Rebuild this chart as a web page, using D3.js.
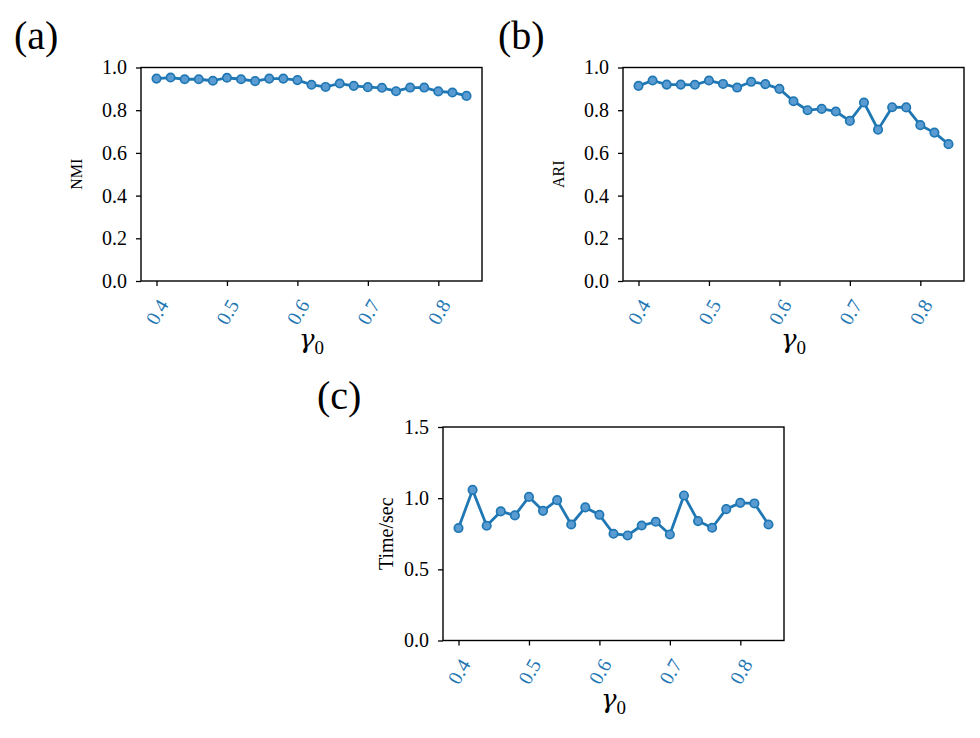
<!DOCTYPE html>
<html>
<head>
<meta charset="utf-8">
<script src="https://cdn.jsdelivr.net/npm/d3@7"></script>
<style>
  body { margin: 0; background: #fff; }
  svg { display: block; font-family: "Liberation Serif", "DejaVu Serif", serif; }
  .frame { fill: none; stroke: #000; stroke-width: 1.4; }
  .tick line { stroke: #000; stroke-width: 1.3; }
  .y-axis text { fill: #000; font-size: 20px; font-family: "Liberation Serif", serif; }
  .x-axis text { fill: #1f77b4; font-size: 20px; font-family: "Liberation Serif", serif; }
  .series-line { fill: none; stroke: #1f77b4; stroke-width: 2.8; stroke-linejoin: round; }
  .series-dot { fill: #5a9bd2; stroke: #1f77b4; stroke-width: 1.7; }
  .gamma { font-family: "DejaVu Serif", serif; font-style: italic; }
</style>
</head>
<body>
<div id="chart"></div>
<script>
// gamma_0 values on the x axis
var gammaValues = [0.40, 0.42, 0.44, 0.46, 0.48, 0.50, 0.52, 0.54, 0.56, 0.58, 0.60, 0.62,
                   0.64, 0.66, 0.68, 0.70, 0.72, 0.74, 0.76, 0.78, 0.80, 0.82, 0.84];
var nmiValues = [0.948, 0.953, 0.945, 0.945, 0.938, 0.952, 0.945, 0.936, 0.948, 0.948, 0.941, 0.919,
                 0.909, 0.925, 0.914, 0.908, 0.905, 0.889, 0.906, 0.906, 0.888, 0.883, 0.867];
var ariValues = [0.914, 0.939, 0.920, 0.920, 0.919, 0.939, 0.923, 0.906, 0.933, 0.922, 0.900, 0.842,
                 0.800, 0.806, 0.794, 0.750, 0.836, 0.709, 0.814, 0.813, 0.730, 0.695, 0.641];
var timeValues = [0.790, 1.058, 0.806, 0.907, 0.879, 1.009, 0.911, 0.986, 0.815, 0.935, 0.883, 0.750,
                  0.738, 0.808, 0.834, 0.745, 1.019, 0.839, 0.792, 0.923, 0.967, 0.963, 0.815];
var xTickValues = [0.4, 0.5, 0.6, 0.7, 0.8];
var scoreTicks = [0.0, 0.2, 0.4, 0.6, 0.8, 1.0];
var timeTicks = [0.0, 0.5, 1.0, 1.5];

var width = 980,
    height = 738,
    plotW = 341,
    plotH = 213.5;

var svg = d3.select("#chart").append("svg")
  .attr("width", width)
  .attr("height", height);

function drawPanel(opts) {
  // matplotlib style 5% margin on the x range
  var span = d3.max(gammaValues) - d3.min(gammaValues);
  var xScale = d3.scaleLinear()
    .domain([d3.min(gammaValues) - span * 0.05, d3.max(gammaValues) + span * 0.05])
    .range([0, plotW]);
  var yScale = d3.scaleLinear()
    .domain(opts.yDomain)
    .range([plotH, 0]);

  var g = svg.append("g")
    .attr("transform", "translate(" + opts.left + "," + opts.top + ")");

  g.append("g")
    .attr("class", "y-axis")
    .call(d3.axisLeft(yScale)
      .tickValues(opts.yTicks)
      .tickSize(5)
      .tickPadding(9)
      .tickFormat(d3.format(".1f")))
    .attr("font-family", null)
    .attr("font-size", null)
    .call(function (s) { s.select(".domain").remove(); });

  var xAxis = g.append("g")
    .attr("class", "x-axis")
    .attr("transform", "translate(0," + plotH + ")")
    .call(d3.axisBottom(xScale)
      .tickValues(xTickValues)
      .tickSize(5)
      .tickFormat(d3.format(".1f")))
    .attr("font-family", null)
    .attr("font-size", null);
  xAxis.select(".domain").remove();
  xAxis.selectAll("text")
    .attr("y", null)
    .attr("dy", null)
    .attr("text-anchor", "middle")
    .attr("dominant-baseline", "central")
    .attr("transform", "translate(0,31) rotate(-60)");

  var points = gammaValues.map(function (d, i) {
    return { x: d, y: opts.values[i] };
  });
  var line = d3.line()
    .x(function (d) { return xScale(d.x); })
    .y(function (d) { return yScale(d.y); });

  g.append("path")
    .datum(points)
    .attr("class", "series-line")
    .attr("d", line);

  g.selectAll(".series-dot")
    .data(points)
    .enter()
    .append("circle")
      .attr("class", "series-dot")
      .attr("cx", function (d) { return xScale(d.x); })
      .attr("cy", function (d) { return yScale(d.y); })
      .attr("r", 4.2);

  g.append("rect")
    .attr("class", "frame")
    .attr("width", plotW)
    .attr("height", plotH);

  g.append("text")
    .attr("transform", "translate(" + (-opts.yLabelOffset) + "," + plotH / 2 + ") rotate(-90)")
    .attr("text-anchor", "middle")
    .attr("font-size", opts.yLabelSize)
    .text(opts.yLabel);

  var xl = g.append("text")
    .attr("x", plotW / 2)
    .attr("y", plotH + 67)
    .attr("text-anchor", "middle")
    .attr("font-size", 26);
  xl.append("tspan")
    .attr("class", "gamma")
    .text("γ");
  xl.append("tspan")
    .attr("font-size", 19)
    .attr("dy", 6)
    .text("0");

  svg.append("text")
    .attr("x", opts.titleX)
    .attr("y", opts.titleY)
    .attr("font-size", 40)
    .text(opts.title);
}

drawPanel({
  left: 141, top: 67.5, values: nmiValues, yDomain: [0, 1], yTicks: scoreTicks,
  yLabel: "NMI", yLabelSize: 16, yLabelOffset: 59,
  title: "(a)", titleX: 14, titleY: 49
});
drawPanel({
  left: 623, top: 67.5, values: ariValues, yDomain: [0, 1], yTicks: scoreTicks,
  yLabel: "ARI", yLabelSize: 16, yLabelOffset: 59,
  title: "(b)", titleX: 498, titleY: 49
});
drawPanel({
  left: 443, top: 427, values: timeValues, yDomain: [0, 1.5], yTicks: timeTicks,
  yLabel: "Time/sec", yLabelSize: 20, yLabelOffset: 50,
  title: "(c)", titleX: 317, titleY: 409
});
</script>
</body>
</html>
